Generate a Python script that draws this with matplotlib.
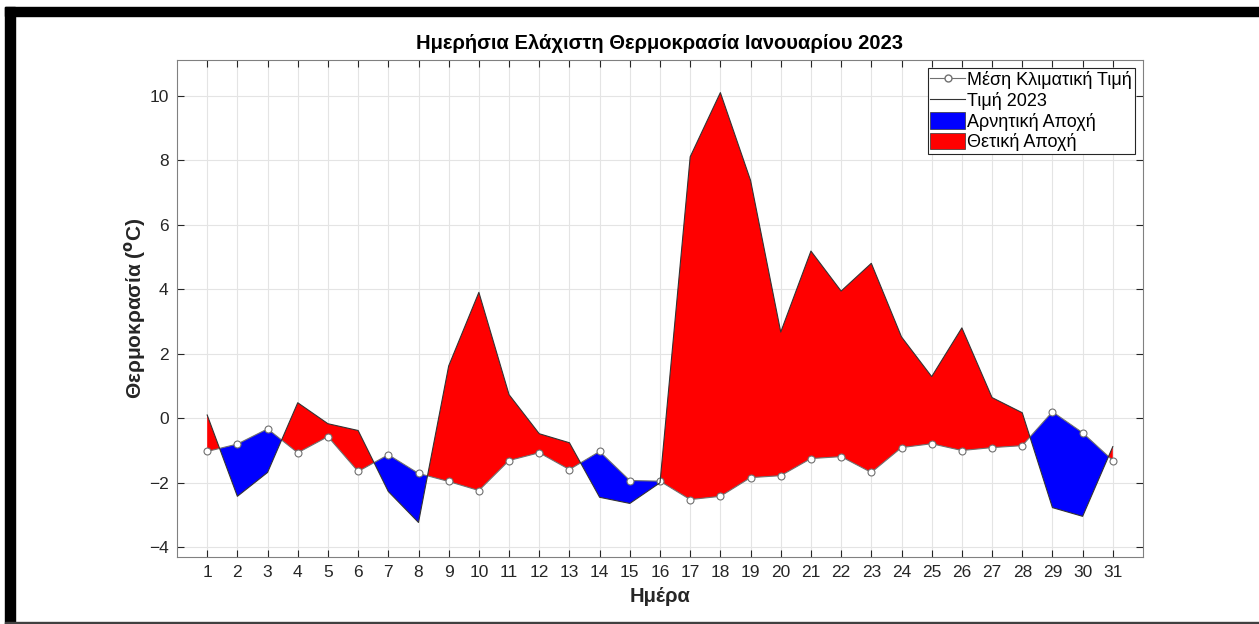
import matplotlib
matplotlib.use("Agg")
import matplotlib.pyplot as plt
import numpy as np
from matplotlib.patches import Rectangle, Patch
from matplotlib.lines import Line2D

plt.rcParams['font.family'] = ['Liberation Sans', 'DejaVu Sans']

# daily data, January 2023
days = np.arange(1, 32)
mean_clim = [-1.03, -0.80, -0.33, -1.07, -0.57, -1.65, -1.13, -1.71, -1.96, -2.24,
             -1.31, -1.07, -1.59, -1.03, -1.93, -1.95, -2.52, -2.42, -1.84, -1.78,
             -1.25, -1.19, -1.68, -0.91, -0.79, -1.00, -0.91, -0.85, 0.20, -0.45,
             -1.31]
temp_2023 = [0.10, -2.42, -1.68, 0.48, -0.17, -0.38, -2.27, -3.23, 1.62, 3.90,
             0.73, -0.48, -0.76, -2.45, -2.64, -2.00, 8.10, 10.09, 7.37, 2.67,
             5.18, 3.94, 4.80, 2.52, 1.29, 2.80, 0.64, 0.17, -2.77, -3.04,
             -0.88]
yticks = [-4, -2, 0, 2, 4, 6, 8, 10]

mean_clim = np.array(mean_clim)
temp_2023 = np.array(temp_2023)

fig = plt.figure(figsize=(12.59, 6.24), dpi=100)
ax = fig.add_axes([177/1259, 1 - 557/624, (1143 - 177)/1259, (557 - 60)/624])

dark = '#262626'

ax.fill_between(days, mean_clim, temp_2023, where=temp_2023 <= mean_clim,
                interpolate=True, color=(0, 0, 1), linewidth=0, zorder=2)
ax.fill_between(days, mean_clim, temp_2023, where=temp_2023 >= mean_clim,
                interpolate=True, color=(1, 0, 0), linewidth=0, zorder=2)
ax.plot(days, mean_clim, '-o', color='#707070', lw=0.8, ms=5,
        mfc='white', mec='#707070', mew=0.8, zorder=3)
ax.plot(days, temp_2023, '-', color='#333333', lw=0.8, zorder=3)

# legend
handles = [
    Line2D([], [], color='#707070', lw=0.8, marker='o', ms=5, mfc='white', mec='#707070'),
    Line2D([], [], color='#333333', lw=0.8),
    Patch(facecolor=(0, 0, 1), edgecolor='#333333', lw=0.5),
    Patch(facecolor=(1, 0, 0), edgecolor='#333333', lw=0.5),
]
labels = ['Μέση Κλιματική Τιμή', 'Τιμή 2023', 'Αρνητική Αποχή', 'Θετική Αποχή']
leg = ax.legend(handles, labels, loc='upper right', fontsize=13, fancybox=False,
                framealpha=1, edgecolor=dark, borderpad=0.15, labelspacing=0.14,
                handlelength=1.9, handleheight=1.0, handletextpad=0.15,
                borderaxespad=0.45)
leg.get_frame().set_linewidth(0.8)

ax.set_xlim(0, 32)
ax.set_ylim(-4.3, 11.1)
ax.set_xticks(days)
ax.set_yticks(yticks)
ax.grid(True, color='#e4e4e4', lw=0.8, zorder=0)
ax.set_axisbelow(True)
ax.tick_params(direction='in', top=True, right=True, length=5, width=0.8,
               colors=dark, labelsize=12.5, pad=6)
for s in ax.spines.values():
    s.set_color('#808080')
    s.set_linewidth(0.8)

ax.set_title('Ημερήσια Ελάχιστη Θερμοκρασία Ιανουαρίου 2023', fontsize=14.5,
             fontweight='bold', color='black', pad=8)
ax.set_xlabel('Ημέρα', fontsize=14.5, fontweight='bold', color=dark, labelpad=5)
ax.set_ylabel(r'Θερμοκρασία ($\mathbf{^o}$C)', fontsize=15, fontweight='bold',
              color=dark, labelpad=1)

# black frame around the picture (top and left) and thin bottom line
fig.patches.append(Rectangle((5/1259, 1 - 16/624), 1 - 5/1259, 9/624,
                             transform=fig.transFigure, color='black', zorder=10))
fig.patches.append(Rectangle((5/1259, 0), 10/1259, 1 - 7/624,
                             transform=fig.transFigure, color='black', zorder=10))
fig.patches.append(Rectangle((5/1259, 0), 1 - 5/1259, 2/624,
                             transform=fig.transFigure, color='#404040', zorder=10))

fig.savefig('out.png', dpi=100)
